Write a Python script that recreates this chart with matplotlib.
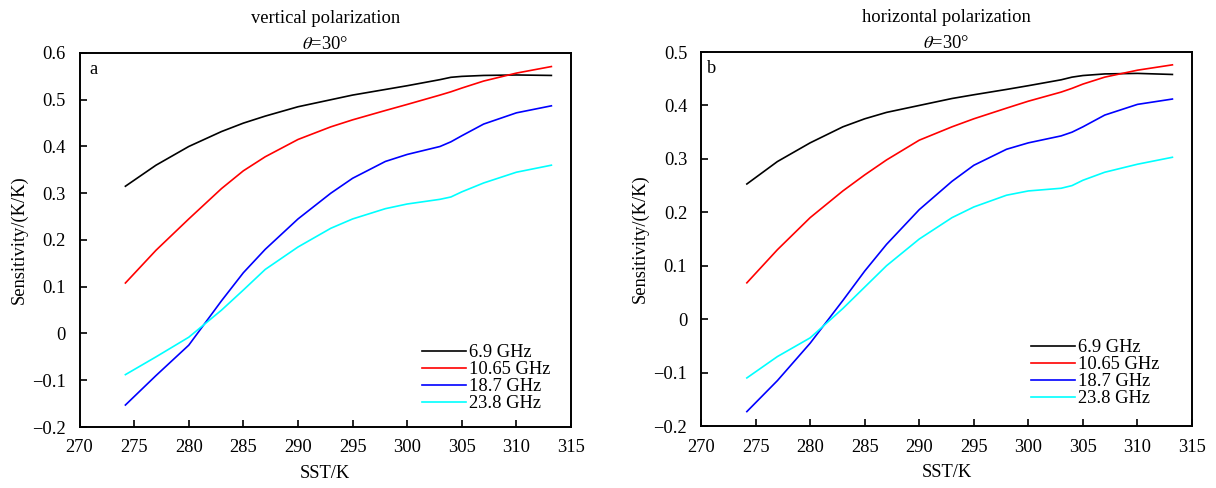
import matplotlib
matplotlib.use("Agg")
import matplotlib.pyplot as plt
from matplotlib.ticker import FuncFormatter, MultipleLocator

plt.rcParams['font.family'] = ['Liberation Serif', 'DejaVu Serif']
plt.rcParams['mathtext.fontset'] = 'stix'

sst = [274.2, 277, 280, 283, 285, 287, 290, 293, 295, 298, 300, 303, 304, 305, 307, 310, 313.2]
freqs = ['6.9 GHz', '10.65 GHz', '18.7 GHz', '23.8 GHz']
colors = ['black', 'red', 'blue', 'cyan']

# vertical polarization
v_69 = [0.315, 0.36, 0.40, 0.432, 0.45, 0.465, 0.485, 0.50, 0.51, 0.522, 0.53, 0.543, 0.548, 0.55, 0.552, 0.553, 0.552]
v_1065 = [0.108, 0.178, 0.245, 0.31, 0.348, 0.378, 0.415, 0.442, 0.457, 0.477, 0.49, 0.51, 0.517, 0.525, 0.54, 0.557, 0.571]
v_187 = [-0.153, -0.09, -0.025, 0.07, 0.13, 0.18, 0.245, 0.30, 0.332, 0.368, 0.383, 0.40, 0.41, 0.423, 0.448, 0.472, 0.487]
v_238 = [-0.088, -0.05, -0.008, 0.05, 0.093, 0.137, 0.185, 0.225, 0.245, 0.267, 0.277, 0.287, 0.292, 0.303, 0.322, 0.345, 0.36]

# horizontal polarization
h_69 = [0.253, 0.295, 0.33, 0.36, 0.375, 0.387, 0.40, 0.413, 0.42, 0.43, 0.437, 0.448, 0.453, 0.456, 0.459, 0.46, 0.458]
h_1065 = [0.068, 0.13, 0.19, 0.24, 0.27, 0.298, 0.335, 0.36, 0.375, 0.395, 0.408, 0.425, 0.432, 0.44, 0.453, 0.466, 0.476]
h_187 = [-0.173, -0.115, -0.045, 0.035, 0.09, 0.14, 0.205, 0.258, 0.288, 0.318, 0.33, 0.343, 0.35, 0.36, 0.382, 0.402, 0.412]
h_238 = [-0.11, -0.07, -0.035, 0.02, 0.06, 0.10, 0.15, 0.19, 0.21, 0.232, 0.24, 0.245, 0.25, 0.26, 0.275, 0.29, 0.303]

FS = 13.3


def fmt(v, pos):
    v = round(v, 3)
    if v == 0:
        return '0'
    return f"{v:g}".replace('-', '\u2212')


def panel(ax, series, title, letter, ymin, ymax, lx, ly):
    for ys, c, lab in zip(series, colors, freqs):
        ax.plot(sst, ys, color=c, linewidth=1.2, label=lab)
    ax.set_xlim(270, 315)
    ax.set_ylim(ymin, ymax)
    ax.xaxis.set_major_locator(MultipleLocator(5))
    ax.yaxis.set_major_locator(MultipleLocator(0.1))
    ax.yaxis.set_major_formatter(FuncFormatter(fmt))
    ax.tick_params(direction='in', length=5, width=1.2, labelsize=FS)
    ax.tick_params(axis='x', pad=9)
    ax.tick_params(axis='y', pad=10)
    for s in ax.spines.values():
        s.set_linewidth(1.4)
    ax.set_xlabel('SST/K', fontsize=FS, labelpad=6)
    ax.set_ylabel('Sensitivity/(K/K)', fontsize=FS, labelpad=3)
    ax.set_title(title + '\n' + r'$\mathit{\theta}$=30°', fontsize=FS, pad=3, linespacing=1.65)
    ax.text(0.02 if letter == 'a' else 0.012, 0.957, letter, transform=ax.transAxes,
            fontsize=FS, va='center', ha='left')
    ax.legend(loc='lower left', bbox_to_anchor=(lx, ly), frameon=False, fontsize=FS,
              handlelength=2.4, handletextpad=0.15, labelspacing=0.0,
              borderaxespad=0, borderpad=0)


fig = plt.figure(figsize=(12.16, 4.88), dpi=100)
ax1 = fig.add_axes([0.0654, 0.125, 0.4042, 0.7664])
ax2 = fig.add_axes([0.5765, 0.127, 0.4038, 0.7664])

panel(ax1, [v_69, v_1065, v_187, v_238], 'vertical polarization', 'a', -0.2, 0.6, 0.697, 0.04)
panel(ax2, [h_69, h_1065, h_187, h_238], 'horizontal polarization', 'b', -0.2, 0.5, 0.672, 0.05)

fig.savefig('out.png', dpi=100)
